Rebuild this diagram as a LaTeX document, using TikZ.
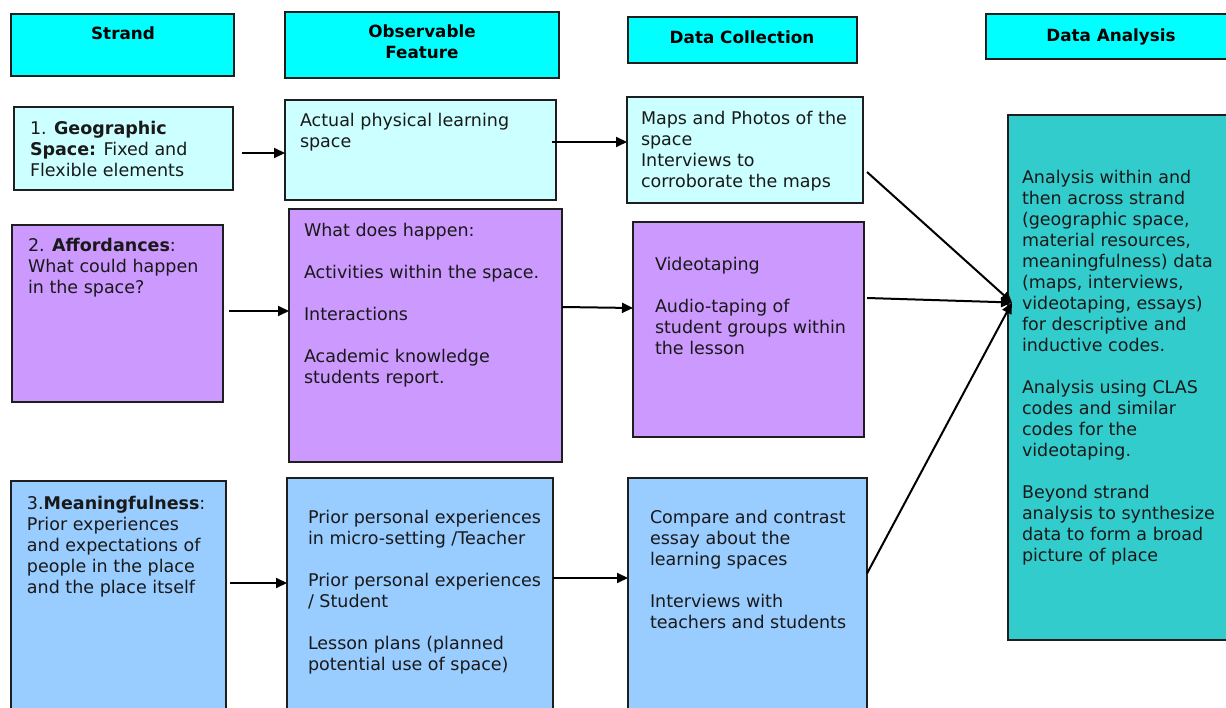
\documentclass[tikz,border=0pt]{standalone}
\usepackage{fontspec}
\setmainfont{DejaVu Sans}
\usetikzlibrary{arrows.meta,calc}

\definecolor{headcyan}{HTML}{00FFFF}
\definecolor{geocyan}{HTML}{CCFFFF}
\definecolor{affpurple}{HTML}{CC99FF}
\definecolor{meanblue}{HTML}{99CCFF}
\definecolor{anateal}{HTML}{33CCCC}
\definecolor{edgegray}{HTML}{1E1E1E}

\tikzset{
  panel/.style={draw=edgegray, line width=2pt, anchor=north west,
    inner sep=0pt, outer sep=0pt},
  txt/.style={anchor=north west, inner sep=0pt, outer sep=0pt, align=left,
    font=\fontsize{17.5}{21}\selectfont, text=black!90,
    execute at begin node=\strut},
  headtxt/.style={anchor=north, inner sep=0pt, outer sep=0pt, align=center,
    font=\fontsize{16.8}{21}\selectfont\bfseries, text=black,
    execute at begin node=\strut},
  arr/.style={draw=black, line width=2pt,
    -{Triangle[length=11pt,width=10pt]}}
}

\begin{document}
\begin{tikzpicture}[x=1pt,y=-1pt]
\useasboundingbox (0,0) rectangle (1226,708);
\clip (0,0) rectangle (1226,708);

% column headers
\node[panel, fill=headcyan, minimum width=223pt, minimum height=62pt] (hstrand) at (11,14) {};
\node[panel, fill=headcyan, minimum width=274pt, minimum height=66pt] (hfeat) at (285,12) {};
\node[panel, fill=headcyan, minimum width=229pt, minimum height=46pt] (hcoll) at (628,17) {};
\node[panel, fill=headcyan, minimum width=250pt, minimum height=45pt] (hanal) at (986,14) {};

\node[headtxt] (thstrand) at (123,25) {Strand};
\node[headtxt] (thfeat) at (422,25) {Observable\\Feature};
\node[headtxt] (thcoll) at (742,29) {Data Collection};
\node[headtxt] (thanal) at (1111,27) {Data Analysis};

% strand 1: geographic space
\node[panel, fill=geocyan, minimum width=219pt, minimum height=83pt] (geo) at (14,107) {};
\node[panel, fill=geocyan, minimum width=271pt, minimum height=100pt] (actual) at (285,100) {};
\node[panel, fill=geocyan, minimum width=236pt, minimum height=106pt] (maps) at (627,97) {};

\node[txt] (tgeo) at (30,121) {1. \textbf{Geographic}\\\textbf{Space:} Fixed and\\Flexible elements};
\node[txt] (tactual) at (300,113) {Actual physical learning\\space};
\node[txt] (tmaps) at (641,111) {Maps and Photos of the\\space\\Interviews to\\corroborate the maps};

% strand 2: affordances
\node[panel, fill=affpurple, minimum width=211pt, minimum height=177pt] (afford) at (12,225) {};
\node[panel, fill=affpurple, minimum width=273pt, minimum height=253pt] (what) at (289,209) {};
\node[panel, fill=affpurple, minimum width=231pt, minimum height=215pt] (video) at (633,222) {};

\node[txt] (tafford) at (28,238) {2. \textbf{Affordances}:\\What could happen\\in the space?};
\node[txt] (twhat) at (304,223) {What does happen:\\[21pt]Activities within the space.\\[21pt]Interactions\\[21pt]Academic knowledge\\students report.};
\node[txt] (tvideo) at (655,257) {Videotaping\\[21pt]Audio-taping of\\student groups within\\the lesson};

% strand 3: meaningfulness
\node[panel, fill=meanblue, minimum width=215pt, minimum height=250pt] (mean) at (11,481) {};
\node[panel, fill=meanblue, minimum width=266pt, minimum height=253pt] (prior) at (287,478) {};
\node[panel, fill=meanblue, minimum width=239pt, minimum height=253pt] (compare) at (628,478) {};

\node[txt] (tmean) at (27,496) {3.\textbf{Meaningfulness}:\\Prior experiences\\and expectations of\\people in the place\\and the place itself};
\node[txt] (tprior) at (308,510) {Prior personal experiences\\in micro-setting /Teacher\\[21pt]Prior personal experiences\\/ Student\\[21pt]Lesson plans (planned\\potential use of space)};
\node[txt] (tcompare) at (650,510) {Compare and contrast\\essay about the\\learning spaces\\[21pt]Interviews with\\teachers and students};

% data analysis
\node[panel, fill=anateal, minimum width=232pt, minimum height=525pt] (ana) at (1008,115) {};
\node[txt] (tana) at (1022,170) {Analysis within and\\then across strand\\(geographic space,\\material resources,\\meaningfulness) data\\(maps, interviews,\\videotaping, essays)\\for descriptive and\\inductive codes.\\[21pt]Analysis using CLAS\\codes and similar\\codes for the\\videotaping.\\[21pt]Beyond strand\\analysis to synthesize\\data to form a broad\\picture of place};

% connectors along each strand
\draw[arr] ($(geo.east)+(9,4.5)$) -- ($(actual.west)+(0,3)$);
\draw[arr] ($(actual.east)+(-4,-8)$) -- ($(maps.west)+(0,-8)$);
\draw[arr] ($(afford.east)+(6,-2.5)$) -- ($(what.west)+(0,-24.5)$);
\draw[arr] ($(what.east)+(0,-28.5)$) -- ($(video.west)+(0,-21.5)$);
\draw[arr] ($(mean.east)+(4,-23)$) -- ($(prior.west)+(0,-21.5)$);
\draw[arr] ($(prior.east)+(0,-26.5)$) -- ($(compare.west)+(0,-26.5)$);

% converging links into the analysis column
\coordinate (hub) at ($(ana.west)+(4,-75)$);
\draw[arr] ($(maps.east)+(4,22)$) -- (hub);
\draw[arr] ($(video.east)+(3,-31.5)$) -- (hub);
\draw[arr] ($(compare.east)+(0,-31)$) -- (hub);
\end{tikzpicture}
\end{document}
